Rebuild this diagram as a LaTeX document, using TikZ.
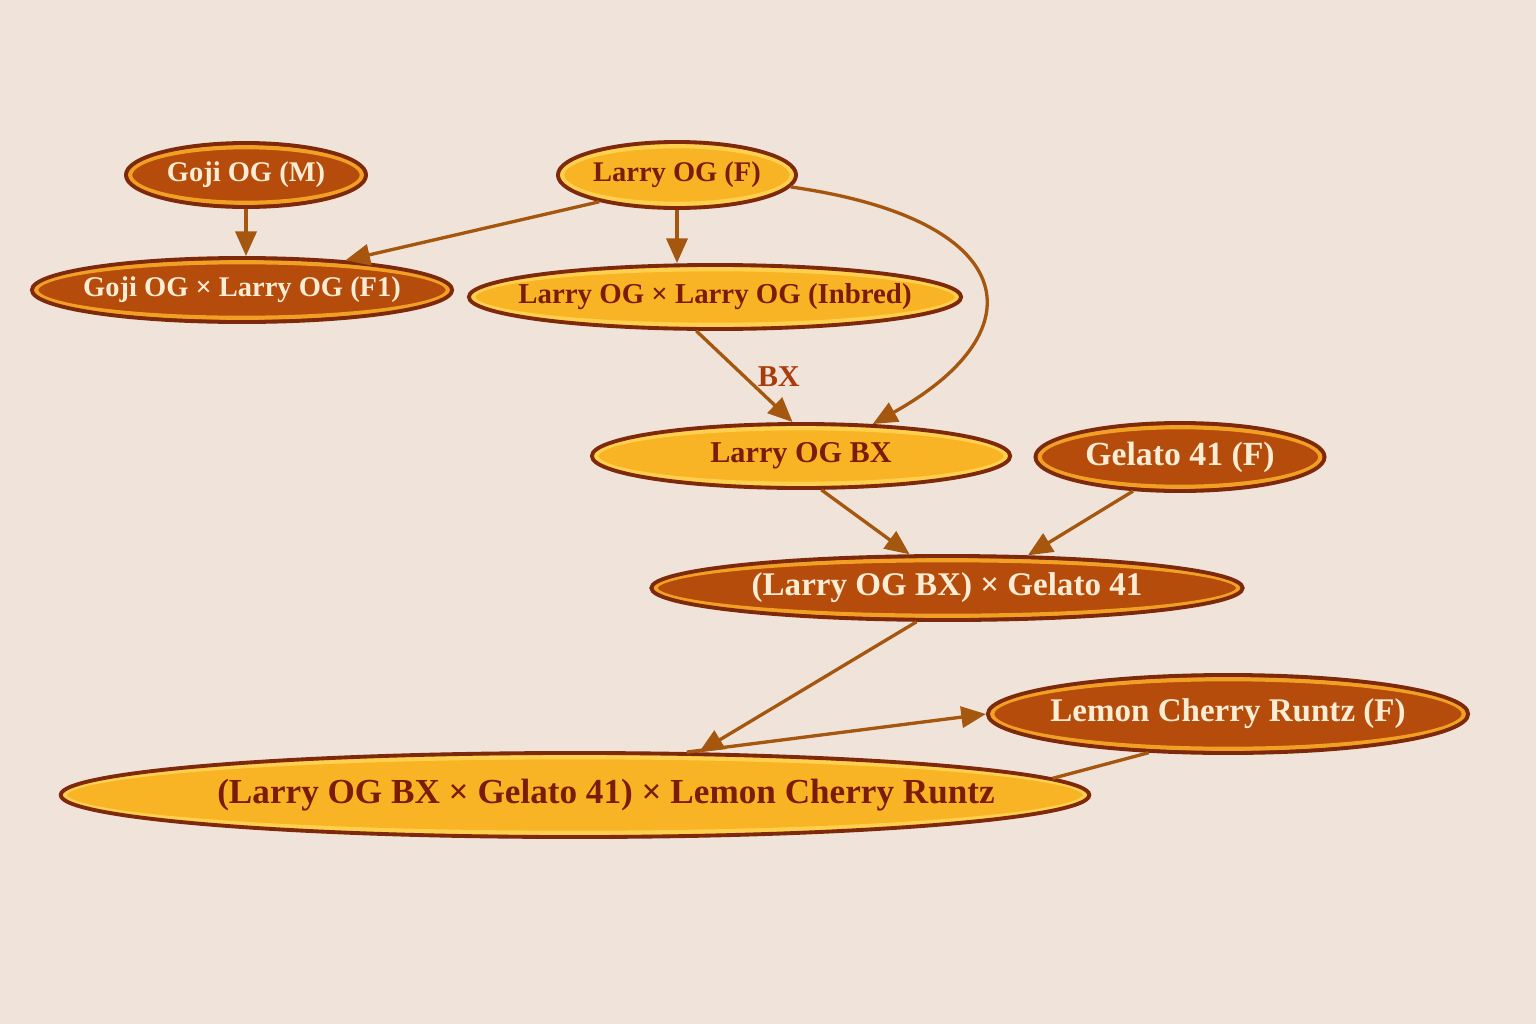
\documentclass[tikz,border=0pt]{standalone}
\usepackage{fontspec}
\setmainfont{Liberation Serif}
\usetikzlibrary{arrows.meta,calc,shapes.geometric}
\definecolor{paper}{HTML}{F0E4DA}
\definecolor{rim}{HTML}{7E2A0A}
\definecolor{rust}{HTML}{B54C0B}
\definecolor{rustring}{HTML}{F2A024}
\definecolor{gold}{HTML}{F8B425}
\definecolor{goldring}{HTML}{FFCF4E}
\definecolor{cream}{HTML}{FBECD4}
\definecolor{maroon}{HTML}{7A1C08}
\definecolor{wire}{HTML}{A5570F}
\definecolor{tag}{HTML}{A83C0A}
\tikzset{
  strain/.style={ellipse,draw=rim,line width=1.1pt,inner xsep=-.5cm,inner ysep=0pt,
    path picture={\draw[#1,line width=1.2pt]
      let \p1=(path picture bounding box.south west),\p2=(path picture bounding box.north east)
      in ($(\p1)!.5!(\p2)$) ellipse [x radius={(\x2-\x1)/2-1.2pt},y radius={(\y2-\y1)/2-1.2pt}];}},
  rusty/.style={strain=rustring,fill=rust,text=cream},
  golden/.style={strain=goldring,fill=gold,text=maroon},
  fs/.style={font=\fontsize{#1}{#1}\selectfont\bfseries},
  edge/.style={draw=wire,line width=.95pt,-{Triangle[length=7pt,width=6pt]}}
}
\begin{document}
\begin{tikzpicture}[x=0.01cm,y=-0.01cm]
  \useasboundingbox[fill=paper] (0,0) rectangle (1536,1024);
  % parents
  \node[rusty,fs=8.1,minimum width=2.40cm,minimum height=.64cm] (goji) at (246,175) {Goji OG (M)};
  \node[golden,fs=8.1,minimum width=2.38cm,minimum height=.66cm] (larry) at (677,175) {Larry OG (F)};
  % first generation
  \node[rusty,fs=8.1,minimum width=4.20cm,minimum height=.64cm] (f1) at (242,290) {Goji OG × Larry OG (F1)};
  \node[golden,fs=8.2,minimum width=4.92cm,minimum height=.64cm] (inbred) at (715,297) {Larry OG × Larry OG (Inbred)};
  % backcross and later crosses
  \node[golden,fs=8.6,minimum width=4.18cm,minimum height=.64cm] (bx) at (801,456) {Larry OG BX};
  \node[rusty,fs=9.6,minimum width=2.89cm,minimum height=.68cm] (gelato) at (1180,457) {Gelato 41 (F)};
  \node[rusty,fs=9.4,minimum width=5.91cm,minimum height=.64cm] (mix) at (947,588) {(Larry OG BX) × Gelato 41};
  \node[rusty,fs=9.4,minimum width=4.80cm,minimum height=.78cm] (lemon) at (1228,714) {Lemon Cherry Runtz (F)};
  \node[golden,fs=10,inner xsep=-.7cm,minimum width=10.28cm,minimum height=.84cm] (final) at (575,795)
    {\hspace*{.62cm}(Larry OG BX × Gelato 41) × Lemon Cherry Runtz};
  % edges
  \draw[edge] (goji.south) -- (goji.south |- f1.north);
  \draw[edge] (larry.199) -- (f1.16);
  \draw[edge] (larry.south) -- (larry.south |- inbred.north);
  \draw[edge] (larry.-6) .. controls +(227,32) and +(170,-95) .. (bx.24);
  \draw[edge] (inbred.241) -- node[right,text=tag,fs=8.6] {BX} (bx.104);
  \draw[edge] (bx.-59) -- (mix.138);
  \draw[edge] (gelato.216) -- (mix.22);
  \draw[edge] (mix.228) -- (final.19);
  \draw[edge] (final.21) -- (lemon.180);
  \draw[draw=wire,line width=.95pt] (lemon.206) -- (final.2);
\end{tikzpicture}
\end{document}
